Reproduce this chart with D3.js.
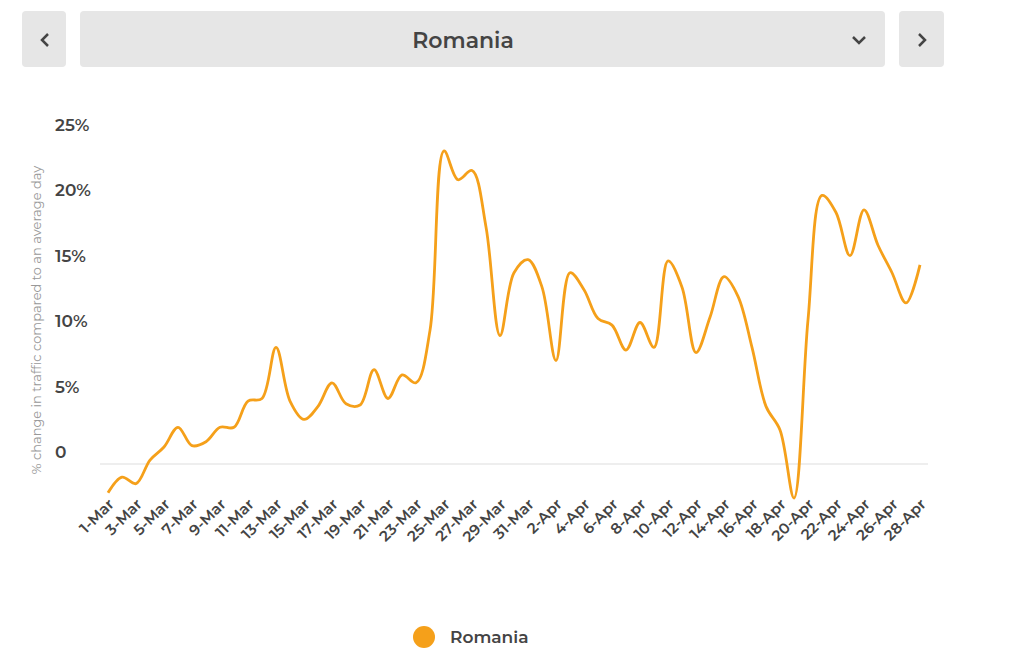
<!DOCTYPE html>
<html><head><meta charset="utf-8">
<script src="https://cdn.jsdelivr.net/npm/d3@7"></script>
<style>body{margin:0;background:#fff;font-family:Montserrat,"Open Sans",sans-serif}</style>
</head><body><svg id="c" width="1024" height="655"></svg>
<script>
const months = ["Mar","Apr"];
const monthDays = [31, 28];
const values = [-2.2,-1.0,-1.5,0.3,1.3,2.8,1.4,1.7,2.8,2.8,4.8,5.0,8.9,4.8,3.4,4.4,6.2,4.6,4.5,7.2,5.0,6.8,6.2,10.2,
23.9,21.7,22.4,18.1,9.8,14.6,15.6,13.5,7.9,14.6,13.3,11.1,10.6,8.7,10.8,8.9,15.5,13.5,8.5,11.2,14.3,12.8,8.9,4.4,2.6,-2.6,
11.0,20.5,19.2,15.9,19.4,16.7,14.6,12.3,15.2];
const yTicks = [0,5,10,15,20,25];
const yTickLabels = ["0","5%","10%","15%","20%","25%"];
const seriesName = "Romania";
const yTitle = "% change in traffic compared to an average day";

const categories = [];
months.forEach((m,i)=>{for(let d=1;d<=monthDays[i];d++) categories.push(d+"-"+m);});

const svg = d3.select("#c");
const color = "#f5a01a";
const txt = "#444";

svg.append("rect").attr("x",22).attr("y",11).attr("width",44).attr("height",56).attr("rx",4).attr("fill","#e6e6e6");
svg.append("rect").attr("x",80).attr("y",11).attr("width",805).attr("height",56).attr("rx",4).attr("fill","#e6e6e6");
svg.append("rect").attr("x",899).attr("y",11).attr("width",45).attr("height",56).attr("rx",4).attr("fill","#e6e6e6");
svg.append("path").attr("d","M48,34 L42,40 L48,46").attr("fill","none").attr("stroke",txt).attr("stroke-width",2.5);
svg.append("path").attr("d","M919,34 L925,40 L919,46").attr("fill","none").attr("stroke",txt).attr("stroke-width",2.5);
svg.append("path").attr("d","M853,37 L859,43 L865,37").attr("fill","none").attr("stroke",txt).attr("stroke-width",2.5);
svg.append("text").attr("x",463).attr("y",48).attr("text-anchor","middle").attr("font-size",22).attr("font-weight",600).attr("fill",txt).text(seriesName);

const x = d3.scalePoint().domain(categories).range([108,920]);
const y = d3.scaleLinear().domain([0,25]).range([464,136.5]);

svg.append("g").selectAll("text").data(yTicks).join("text")
  .attr("x",55).attr("y",d=>y(d)-6).attr("font-size",17).attr("font-weight",600).attr("fill",txt)
  .text((d,i)=>yTickLabels[i]);
svg.append("line").attr("x1",100).attr("x2",928).attr("y1",y(0)).attr("y2",y(0)).attr("stroke","#ddd").attr("stroke-width",1);
svg.append("text").attr("transform","translate(41,320) rotate(-90)").attr("text-anchor","middle")
  .attr("font-size",13).attr("fill","#999").text(yTitle);

svg.append("g").selectAll("text").data(categories.filter((d,i)=>i%2===0)).join("text")
  .attr("transform",d=>`translate(${x(d)+7},${505}) rotate(-45)`).attr("text-anchor","end")
  .attr("font-size",15).attr("font-weight",600).attr("fill",txt).text(d=>d);

const line = d3.line().x((d,i)=>x(categories[i])).y(d=>y(d)).curve(d3.curveCatmullRom.alpha(0.5));
svg.append("path").datum(values).attr("d",line).attr("fill","none").attr("stroke",color).attr("stroke-width",2.8);

svg.append("circle").attr("cx",424).attr("cy",637).attr("r",11).attr("fill",color);
svg.append("text").attr("x",450).attr("y",643).attr("font-size",17).attr("font-weight",600).attr("fill",txt).text(seriesName);
</script></body></html>
